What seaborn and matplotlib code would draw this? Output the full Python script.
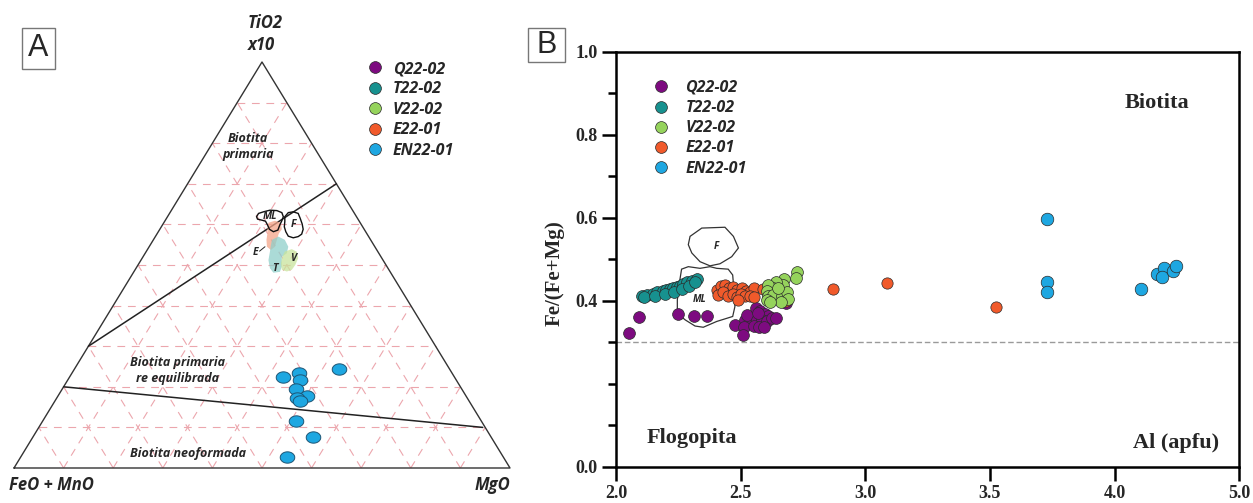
import numpy as np
import pandas as pd
import matplotlib
matplotlib.use("Agg")
import matplotlib.pyplot as plt
from matplotlib.lines import Line2D
from matplotlib.patches import Polygon, Rectangle
import seaborn as sns

# ---------------- data ----------------
samples = ["Q22-02", "T22-02", "V22-02", "E22-01", "EN22-01"]
sample_colors = ["#7d0b80", "#17918f", "#95d35c", "#f15a2b", "#1ea7e1"]

# Ternary compositions (fractions) of EN22-01 biotites
en_feo_mno = [0.346, 0.308, 0.315, 0.223, 0.334, 0.321, 0.343, 0.341, 0.373, 0.359, 0.437]
en_mgo = [0.430, 0.458, 0.468, 0.533, 0.471, 0.502, 0.485, 0.494, 0.511, 0.565, 0.536]
en_tio2 = [0.224, 0.234, 0.217, 0.244, 0.195, 0.177, 0.172, 0.165, 0.116, 0.076, 0.027]

# Field boundaries, end points as (FeO+MnO, MgO, TiO2)
boundary_primary = [(0.70, 0.00, 0.30), (0.00, 0.30, 0.70)]
boundary_neoformed = [(0.80, 0.00, 0.20), (0.005, 0.895, 0.10)]

# Reference fields and sample envelopes in projected ternary coordinates (X, Y)
ml_field = [(0.489, 0.619), (0.493, 0.627), (0.503, 0.631), (0.516, 0.635), (0.530, 0.634),
            (0.540, 0.629), (0.543, 0.619), (0.540, 0.609), (0.536, 0.599), (0.532, 0.586),
            (0.523, 0.582), (0.515, 0.588), (0.511, 0.599), (0.507, 0.608), (0.498, 0.611),
            (0.491, 0.613)]
f_field = [(0.546, 0.619), (0.553, 0.629), (0.563, 0.631), (0.573, 0.627), (0.577, 0.615),
           (0.581, 0.601), (0.583, 0.588), (0.580, 0.576), (0.573, 0.570), (0.563, 0.567),
           (0.553, 0.571), (0.548, 0.582), (0.545, 0.594), (0.546, 0.607)]
e_envelope = [(0.513, 0.604), (0.526, 0.609), (0.538, 0.604), (0.540, 0.588), (0.534, 0.578),
              (0.530, 0.562), (0.526, 0.545), (0.518, 0.537), (0.510, 0.545), (0.509, 0.562),
              (0.511, 0.578), (0.511, 0.590)]
t_envelope = [(0.520, 0.562), (0.533, 0.570), (0.546, 0.562), (0.553, 0.545), (0.550, 0.529),
              (0.540, 0.520), (0.540, 0.496), (0.536, 0.483), (0.523, 0.481), (0.516, 0.492),
              (0.513, 0.512), (0.516, 0.533), (0.518, 0.549)]
v_envelope = [(0.546, 0.533), (0.560, 0.539), (0.570, 0.533), (0.573, 0.517), (0.567, 0.500),
              (0.560, 0.488), (0.550, 0.484), (0.540, 0.488), (0.538, 0.504), (0.541, 0.520)]

# Al (apfu) vs Fe/(Fe+Mg)
q_al = [2.053, 2.093, 2.250, 2.313, 2.366, 2.477, 2.517, 2.524, 2.513, 2.510, 2.562, 2.578,
        2.598, 2.611, 2.565, 2.585, 2.605, 2.625, 2.642, 2.555, 2.575, 2.595, 2.570, 2.680]
q_fe = [0.321, 0.361, 0.367, 0.364, 0.364, 0.342, 0.354, 0.366, 0.336, 0.318, 0.382, 0.374,
        0.367, 0.362, 0.354, 0.354, 0.350, 0.358, 0.358, 0.339, 0.336, 0.336, 0.370, 0.395]
t_al = [2.103, 2.123, 2.147, 2.166, 2.187, 2.200, 2.216, 2.230, 2.243, 2.257, 2.270, 2.286,
        2.304, 2.324, 2.112, 2.156, 2.197, 2.233, 2.264, 2.294, 2.317]
t_fe = [0.412, 0.414, 0.416, 0.421, 0.423, 0.426, 0.428, 0.431, 0.434, 0.436, 0.440, 0.444,
        0.448, 0.453, 0.408, 0.412, 0.416, 0.422, 0.428, 0.436, 0.444]
e_al = [2.404, 2.420, 2.437, 2.455, 2.471, 2.487, 2.504, 2.522, 2.537, 2.554, 2.410, 2.430,
        2.450, 2.468, 2.484, 2.500, 2.519, 2.537, 2.554, 2.490, 2.591, 2.680, 2.872, 3.086,
        3.524]
e_fe = [0.426, 0.436, 0.438, 0.430, 0.434, 0.426, 0.430, 0.424, 0.422, 0.430, 0.414, 0.420,
        0.412, 0.416, 0.408, 0.416, 0.412, 0.412, 0.408, 0.402, 0.428, 0.400, 0.428, 0.442,
        0.386]
v_al = [2.727, 2.722, 2.674, 2.671, 2.641, 2.631, 2.611, 2.605, 2.611, 2.631, 2.665, 2.685,
        2.691, 2.662, 2.605, 2.618, 2.651]
v_fe = [0.468, 0.454, 0.452, 0.438, 0.444, 0.430, 0.438, 0.424, 0.412, 0.414, 0.412, 0.422,
        0.404, 0.398, 0.402, 0.396, 0.430]
en_al = [3.730, 3.728, 3.728, 4.107, 4.169, 4.198, 4.190, 4.233, 4.245]
en_fe = [0.597, 0.446, 0.420, 0.428, 0.465, 0.478, 0.457, 0.472, 0.484]

# Mineral fields in the Al - Fe/(Fe+Mg) plane
ml_field_b = [(2.263, 0.476), (2.290, 0.482), (2.337, 0.478), (2.377, 0.482), (2.404, 0.478),
              (2.450, 0.476), (2.468, 0.462), (2.473, 0.426), (2.477, 0.386), (2.468, 0.362),
              (2.404, 0.350), (2.350, 0.336), (2.317, 0.339), (2.277, 0.354), (2.246, 0.370),
              (2.246, 0.402), (2.254, 0.442)]
f_field_b = [(2.290, 0.535), (2.297, 0.555), (2.344, 0.575), (2.437, 0.577), (2.471, 0.555),
             (2.491, 0.527), (2.464, 0.506), (2.417, 0.489), (2.377, 0.484), (2.337, 0.494),
             (2.304, 0.515)]

x_tick_pos = [2.0, 2.5, 3.0, 3.5, 4.0, 4.5]
x_tick_labels = ["2.0", "2.5", "3.0", "3.5", "4.0", "5.0"]
y_major = [0.0, 0.4, 0.6, 0.8, 1.0]
y_major_labels = ["0.0", "0.4", "0.6", "0.8", "1.0"]
y_minor = [0.1, 0.2, 0.3, 0.5, 0.7, 0.9]
boundary_fe = 0.3

# ---------------- style ----------------
sns.set_theme(style="white")
plt.rcParams["font.family"] = ["Open Sans", "DejaVu Sans"]
palette = dict(zip(samples, sample_colors))
edge_dark = "#2b2b2b"
SANS_BI = dict(family=["Open Sans", "DejaVu Sans"], fontweight="bold", fontstyle="italic")
SERIF_B = dict(family=["Liberation Serif", "DejaVu Serif"], fontweight="bold")

W, H = 1253, 503
fig = plt.figure(figsize=(W / 100, H / 100), dpi=100)


def tern_xy(feo, mgo, tio2):
    feo, mgo, tio2 = map(np.asarray, (feo, mgo, tio2))
    tot = feo + mgo + tio2
    return (mgo + tio2 / 2) / tot, tio2 / tot


# ================= Panel A: ternary diagram =================
ax_a = fig.add_axes([0, 0, 540 / W, 1])
ax_a.set_xlim(-14 / 496, 526 / 496)
ax_a.set_ylim(-35 / 406, 468 / 406)
ax_a.axis("off")

grid_kw = dict(color="#eca6ad", lw=0.8, dashes=(7, 6), zorder=1)
for i in range(1, 10):
    g = i / 10
    ax_a.plot([g / 2, 1 - g / 2], [g, g], **grid_kw)
    ax_a.plot([g, g + (1 - g) / 2], [0, 1 - g], **grid_kw)
    ax_a.plot([1 - g, (1 - g) / 2], [0, 1 - g], **grid_kw)

ax_a.plot([0, 1, 0.5, 0], [0, 0, 1, 0], color="#333333", lw=1.0, zorder=3)
for seg in (boundary_primary, boundary_neoformed):
    bx, by = tern_xy(*zip(*seg))
    ax_a.plot(bx, by, color="#222222", lw=1.1, zorder=3)

for pts, fc in ((e_envelope, "#f3a488"), (t_envelope, "#8fcfca"), (v_envelope, "#c9e49c")):
    ax_a.add_patch(Polygon(pts, closed=True, fc=fc, ec="none", alpha=0.75, zorder=4))
for pts in (ml_field, f_field):
    ax_a.add_patch(Polygon(pts, closed=True, fill=False, ec="#111111", lw=1.0, zorder=5))

for txt, x, y in (("ML", 0.516, 0.619), ("F", 0.563, 0.599), ("E", 0.487, 0.531),
                  ("V", 0.563, 0.517), ("T", 0.525, 0.492)):
    ax_a.text(x, y, txt, ha="center", va="center", fontsize=7.5, zorder=6, **SANS_BI)
ax_a.plot([0.495, 0.506], [0.534, 0.545], color="#222222", lw=0.7, zorder=6)

ex, ey = tern_xy(en_feo_mno, en_mgo, en_tio2)
df_a = pd.DataFrame({"X": ex, "Y": ey})
ell = np.linspace(0, 2 * np.pi, 40)
ellipse_marker = np.column_stack([np.cos(ell), 0.78 * np.sin(ell)])
sns.scatterplot(data=df_a, x="X", y="Y", ax=ax_a, color=palette["EN22-01"], s=110,
                marker=ellipse_marker, edgecolor="#1d5575", linewidth=0.7, zorder=7,
                legend=False)

ax_a.text(0.472, 1.096, "TiO2", ha="left", va="center", fontsize=12, **SANS_BI)
ax_a.text(0.472, 1.042, "x10", ha="left", va="center", fontsize=12, **SANS_BI)
ax_a.text(0.0746, -0.042, "FeO + MnO", ha="center", va="center", fontsize=12, **SANS_BI)
ax_a.text(0.965, -0.042, "MgO", ha="center", va="center", fontsize=12, **SANS_BI)
ax_a.text(0.472, 0.792, "Biotita\nprimaria", ha="center", va="center", fontsize=9,
          linespacing=1.35, **SANS_BI)
ax_a.text(0.330, 0.240, "Biotita primaria\nre equilibrada", ha="center", va="center",
          fontsize=9, linespacing=1.35, **SANS_BI)
ax_a.text(0.350, 0.0345, "Biotita neoformada", ha="center", va="center", fontsize=9,
          **SANS_BI)


def sample_handles():
    return [Line2D([], [], ls="none", marker="o", markersize=8.5, markerfacecolor=c,
                   markeredgecolor=edge_dark, markeredgewidth=0.5) for c in sample_colors]


leg_a = fig.legend(sample_handles(), samples, loc="upper left",
                   bbox_to_anchor=(367 / W, 1 - 61 / H), bbox_transform=fig.transFigure,
                   frameon=False, borderpad=0, borderaxespad=0, handlelength=1.0,
                   handletextpad=0.62, labelspacing=0.28,
                   prop=dict(family="Open Sans", weight="bold", style="italic", size=11.5))

# ================= Panel B: Al vs Fe/(Fe+Mg) =================
ax_b = fig.add_axes([616 / W, (H - 466.7) / H, 623.3 / W, 415 / H])
ax_b.set_xlim(2.0, 4.5)
ax_b.set_ylim(0.0, 1.0)

ax_b.axhline(boundary_fe, color="#9a9a9a", lw=1.0, ls=(0, (4, 2)), zorder=1)
for pts in (ml_field_b, f_field_b):
    ax_b.add_patch(Polygon(pts, closed=True, fill=False, ec="#333333", lw=0.9, zorder=2))
ax_b.text(2.401, 0.530, "F", ha="center", va="center", fontsize=7, **SANS_BI)
ax_b.text(2.337, 0.402, "ML", ha="center", va="center", fontsize=7, **SANS_BI)

series_b = {
    "Q22-02": (q_al, q_fe),
    "T22-02": (t_al, t_fe),
    "E22-01": (e_al, e_fe),
    "V22-02": (v_al, v_fe),
    "EN22-01": (en_al, en_fe),
}
size_b = {"Q22-02": 72, "T22-02": 72, "E22-01": 66, "V22-02": 72, "EN22-01": 82}
for name, (al, fe) in series_b.items():
    df_b = pd.DataFrame({"Al": al, "FeMg": fe})
    sns.scatterplot(data=df_b, x="Al", y="FeMg", ax=ax_b, color=palette[name],
                    s=size_b[name], edgecolor=edge_dark, linewidth=0.5, zorder=3,
                    legend=False)

ax_b.set_xlabel("")
ax_b.set_ylabel("")
ax_b.set_xticks(x_tick_pos)
ax_b.set_xticklabels(x_tick_labels)
ax_b.set_yticks(y_major)
ax_b.set_yticklabels(y_major_labels)
ax_b.set_yticks(y_minor, minor=True)
ax_b.tick_params(axis="both", which="major", direction="out", length=10, width=1.8,
                 color="black", labelsize=13, pad=3, left=True, bottom=True)
ax_b.tick_params(axis="y", which="minor", direction="out", length=6, width=1.8,
                 color="black", left=True)
for lab in ax_b.get_xticklabels() + ax_b.get_yticklabels():
    lab.set_fontfamily(["Liberation Serif", "DejaVu Serif"])
    lab.set_fontweight("bold")
for sp in ax_b.spines.values():
    sp.set_visible(True)
    sp.set_color("black")
    sp.set_linewidth(1.8)

ax_b.text(-0.098, 0.467, "Fe/(Fe+Mg)", rotation=90, ha="center", va="center",
          transform=ax_b.transAxes, fontsize=15, **SERIF_B)
ax_b.text(4.170, 0.876, "Biotita", ha="center", va="center", fontsize=16, **SERIF_B)
ax_b.text(2.306, 0.069, "Flogopita", ha="center", va="center", fontsize=16, **SERIF_B)
ax_b.text(4.246, 0.057, "Al (apfu)", ha="center", va="center", fontsize=16, **SERIF_B)

leg_b = fig.legend(sample_handles(), samples, loc="upper left",
                   bbox_to_anchor=(653.5 / W, 1 - 80 / H), bbox_transform=fig.transFigure,
                   frameon=False, borderpad=0, borderaxespad=0, handlelength=1.0,
                   handletextpad=1.0, labelspacing=0.26,
                   prop=dict(family="Open Sans", weight="bold", style="italic", size=11.5))

# Panel letters in framed boxes
for letter, (x0, y0, x1, y1) in (("A", (22, 28, 55, 69)), ("B", (528, 28, 565, 62))):
    fig.add_artist(Rectangle((x0 / W, 1 - y1 / H), (x1 - x0) / W, (y1 - y0) / H,
                             transform=fig.transFigure, fill=False, ec="#777777", lw=1.0))
    fig.text((x0 + x1) / 2 / W, 1 - (y0 + y1) / 2 / H, letter, ha="center", va="center",
             fontsize=22, family=["Liberation Sans", "DejaVu Sans"])

fig.savefig("out.png", dpi=100)
